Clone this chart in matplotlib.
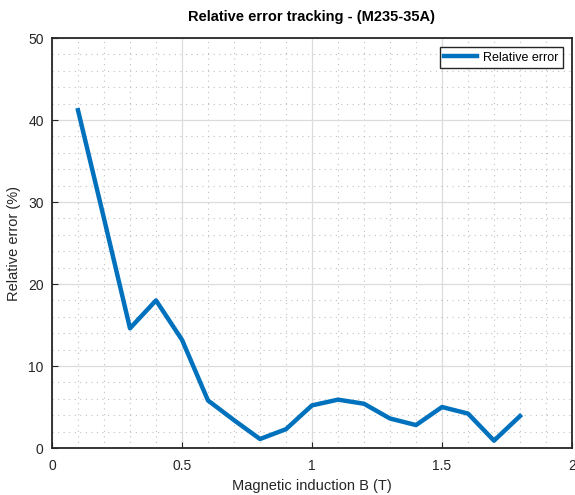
import numpy as np
import matplotlib.pyplot as plt
from matplotlib.ticker import MultipleLocator

# induzione magnetica e errore relativo misurato
B = [0.1, 0.2, 0.3, 0.4, 0.5, 0.6, 0.7, 0.8, 0.9, 1.0, 1.1, 1.2, 1.3, 1.4, 1.5, 1.6, 1.7, 1.8]
errore_rel = [41.2, 28.0, 14.6, 18.0, 13.2, 5.8, 3.4, 1.1, 2.3, 5.2, 5.9, 5.4, 3.6, 2.8, 5.0, 4.2, 0.9, 3.9]

plt.rcParams['font.family'] = ['Liberation Sans', 'DejaVu Sans']

fig = plt.figure(figsize=(5.75, 4.95), dpi=100)
ax = fig.add_axes([0.0904, 0.0949, 0.9044, 0.8283])

ax.plot(B, errore_rel, color='#0072BD', linewidth=3.2, label='Relative error')

ax.set_xlim(0, 2)
ax.set_ylim(0, 50)
ax.xaxis.set_major_locator(MultipleLocator(0.5))
ax.xaxis.set_minor_locator(MultipleLocator(0.1))
ax.yaxis.set_major_locator(MultipleLocator(10))
ax.yaxis.set_minor_locator(MultipleLocator(2))
ax.set_xticks([0, 0.5, 1, 1.5, 2])
ax.set_xticklabels(['0', '0.5', '1', '1.5', '2'])

ax.grid(which='major', color='#dcdcdc', linewidth=0.9)
ax.grid(which='minor', color='#c0c0c0', linestyle=(0, (1, 4)), linewidth=0.8)
ax.set_axisbelow(True)

ax.tick_params(which='both', direction='in', colors='#262626', labelsize=10)
ax.tick_params(which='minor', length=0)
ax.tick_params(axis='x', which='major', length=4, pad=8)
ax.tick_params(axis='y', which='major', length=4, pad=6)
for s in ax.spines.values():
    s.set_linewidth(1.3)
    s.set_color('#262626')

ax.set_xlabel('Magnetic induction B (T)', fontsize=10.5, color='#262626', labelpad=4)
ax.set_ylabel('Relative error (%)', fontsize=10.5, color='#262626', labelpad=5)
ax.set_title('Relative error tracking - (M235-35A)', fontsize=10.5, fontweight='bold', pad=12)

leg = ax.legend(loc='upper right', fontsize=9, fancybox=False, framealpha=1,
                edgecolor='#262626', borderpad=0.35, handlelength=2.6, handletextpad=0.5,
                borderaxespad=0.75)
leg.get_frame().set_linewidth(1.0)

plt.savefig('out.png', dpi=100)
